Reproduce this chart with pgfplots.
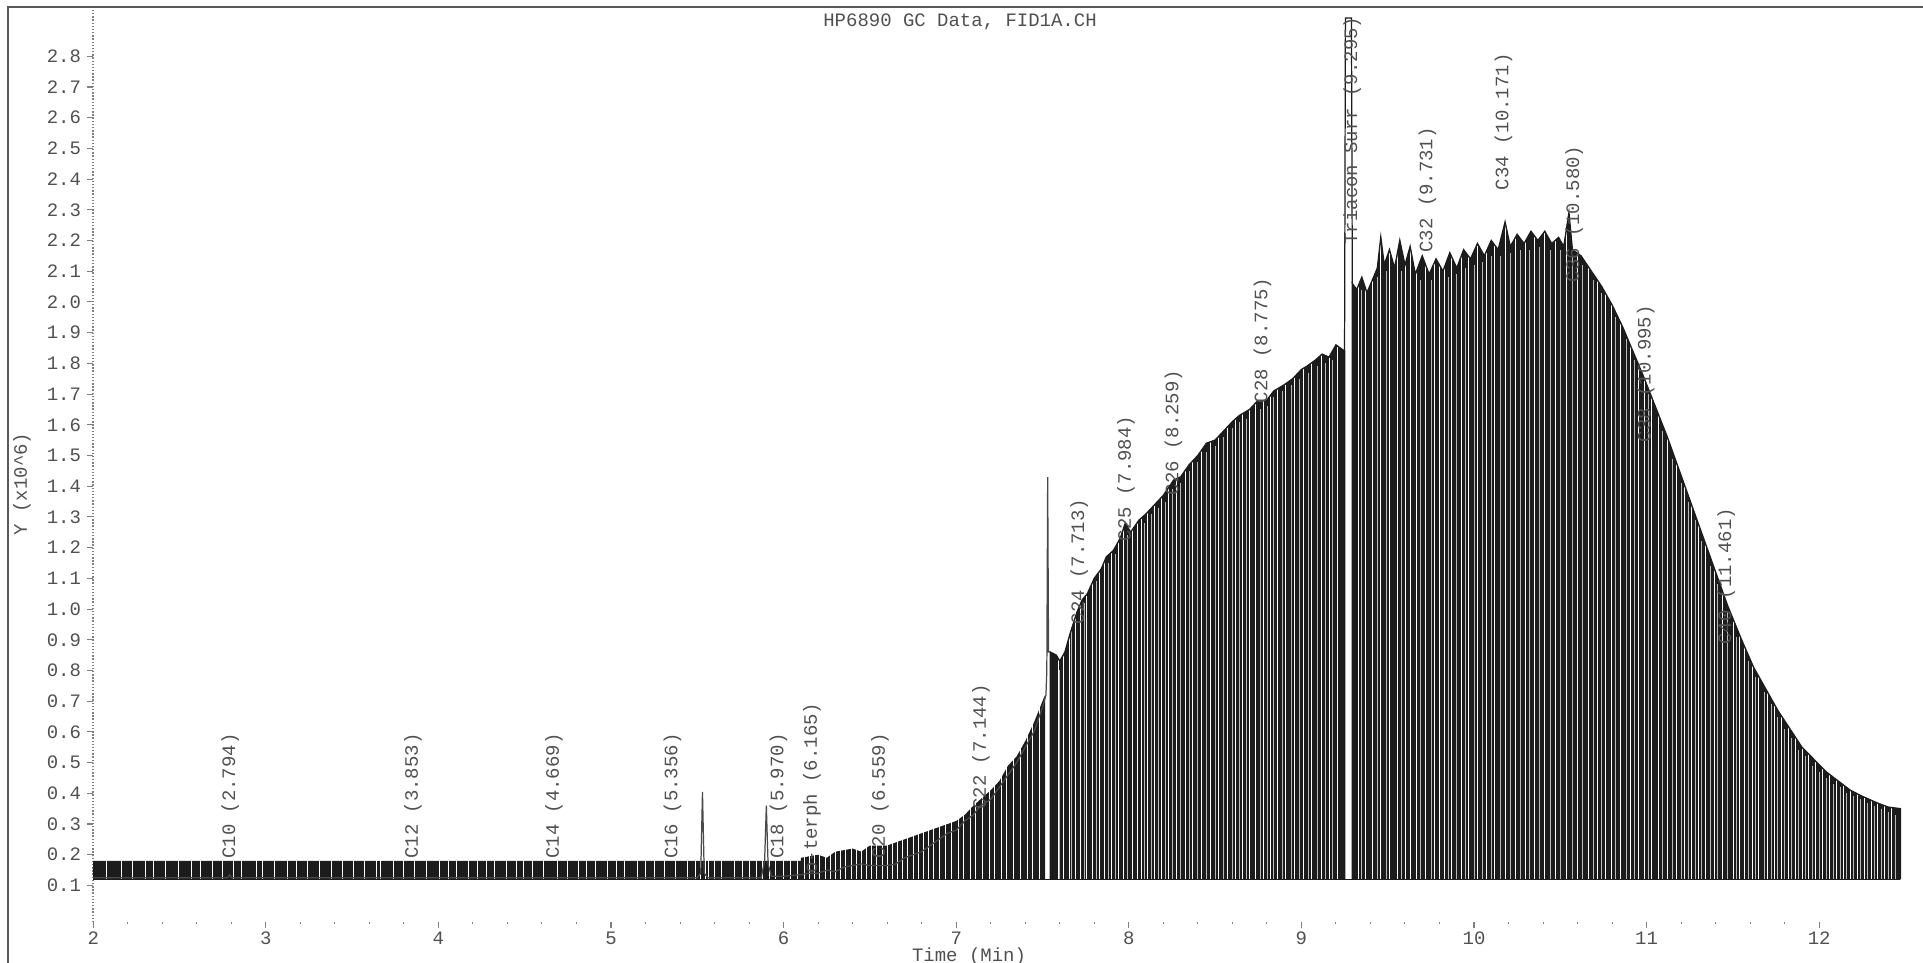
\documentclass[border=0pt]{standalone}
\usepackage{pgfplots}
\pgfplotsset{compat=1.18}
\usepackage{fontspec}
\setmainfont{Liberation Mono}
\definecolor{txt}{HTML}{505050}
\definecolor{ink}{HTML}{1C1C1C}
\newcommand{\lf}{\fontsize{10.8}{12}\selectfont}
\begin{document}
\begin{tikzpicture}
\path[use as bounding box] (0,0) rectangle (38.46cm,19.26cm);
\draw[gray!70!black, line width=0.8pt] (0.16cm,0cm) -- (0.16cm,19.12cm) -- (38.46cm,19.12cm);
\begin{axis}[
  scale only axis, width=36.246cm, height=18.272cm,
  at={(1.864cm,0.814cm)}, anchor=south west,
  xmin=2, xmax=12.5, ymin=-0.02, ymax=2.955,
  axis lines*=left,
  x axis line style={draw=none},
  y axis line style={gray, densely dotted, line width=0.8pt},
  xtick={2,3,...,12}, minor x tick num=4,
  ytick={0.1,0.2,0.3,0.4,0.5,0.6,0.7,0.8,0.9,1.0,1.1,1.2,1.3,1.4,1.5,1.6,1.7,1.8,1.9,2.0,2.1,2.2,2.3,2.4,2.5,2.6,2.7,2.8},
  tick align=outside, major tick length=0.12cm, minor tick length=0.04cm,
  tick style={gray, line width=0.6pt},
  /pgf/number format/assume math mode=true,
  tick label style={font=\lf, text=txt},
  yticklabel style={/pgf/number format/.cd, fixed, fixed zerofill, precision=1},
  xticklabel style={yshift=0.06cm},
]
% low region filled bars
\addplot[fill=ink, draw=none] table {
x y
2.0 0.12
2.0 0.18
6.1 0.18
6.1 0.19
6.2 0.20
6.25 0.19
6.3 0.21
6.4 0.22
6.45 0.21
6.5 0.23
6.6 0.23
6.7 0.25
6.8 0.27
6.85 0.28
6.9 0.29
7.0 0.31
7.05 0.33
7.1 0.36
7.2 0.41
7.25 0.44
7.3 0.49
7.35 0.52
7.4 0.57
7.45 0.63
7.5 0.70
7.515 0.72
7.515 0.12
};
% middle envelope
\addplot[fill=ink, draw=none] table {
x y
7.545 0.12
7.545 0.86
7.58 0.85
7.60 0.83
7.63 0.86
7.66 0.92
7.70 0.99
7.73 1.03
7.76 1.05
7.80 1.10
7.84 1.13
7.87 1.17
7.91 1.19
7.95 1.23
7.98 1.28
8.01 1.25
8.06 1.29
8.10 1.31
8.15 1.34
8.20 1.37
8.26 1.42
8.30 1.43
8.35 1.47
8.40 1.50
8.45 1.54
8.50 1.55
8.55 1.58
8.60 1.61
8.64 1.63
8.70 1.65
8.75 1.68
8.80 1.68
8.84 1.71
8.90 1.73
8.95 1.75
9.00 1.78
9.03 1.79
9.08 1.81
9.12 1.83
9.16 1.82
9.20 1.86
9.25 1.84
9.25 0.12
};
% right envelope
\addplot[fill=ink, draw=none] table {
x y
9.295 0.12
9.295 2.06
9.32 2.04
9.35 2.08
9.38 2.03
9.41 2.07
9.44 2.11
9.46 2.21
9.48 2.12
9.51 2.17
9.54 2.11
9.57 2.20
9.60 2.12
9.63 2.18
9.66 2.09
9.70 2.15
9.74 2.09
9.78 2.14
9.82 2.10
9.86 2.16
9.90 2.11
9.94 2.17
9.98 2.14
10.02 2.19
10.06 2.15
10.10 2.20
10.14 2.17
10.18 2.26
10.21 2.18
10.25 2.22
10.29 2.19
10.33 2.23
10.37 2.20
10.41 2.23
10.45 2.19
10.49 2.21
10.52 2.18
10.55 2.29
10.57 2.17
10.62 2.15
10.68 2.10
10.74 2.05
10.80 1.99
10.86 1.92
10.92 1.84
10.98 1.76
11.05 1.66
11.12 1.56
11.19 1.45
11.26 1.34
11.33 1.23
11.40 1.12
11.47 1.01
11.55 0.90
11.62 0.81
11.70 0.73
11.76 0.67
11.83 0.61
11.90 0.55
11.97 0.51
12.04 0.47
12.11 0.44
12.18 0.41
12.25 0.39
12.33 0.37
12.40 0.355
12.47 0.35
12.47 0.12
};
% lighter drop lines (from baseline 0.12 up to y)
\addplot[draw=none, mark=none,
  error bars/.cd, y dir=minus, y explicit, error mark=none,
  error bar style={draw=gray!55, line width=0.4pt}]
  table[y error expr=\thisrow{y}-0.12] {
x y
7.60 0.80
7.67 0.94
7.74 1.02
7.81 1.09
7.88 1.15
7.92 1.18
7.99 1.24
8.09 1.28
8.13 1.31
8.17 1.33
8.21 1.35
8.25 1.39
8.30 1.41
8.35 1.45
8.40 1.48
8.45 1.51
8.50 1.53
8.55 1.56
8.60 1.59
8.64 1.61
8.68 1.62
8.76 1.65
8.80 1.66
8.84 1.69
8.89 1.71
8.94 1.73
8.99 1.75
9.04 1.77
9.09 1.79
9.14 1.80
9.18 1.81
9.35 2.04
9.44 2.08
9.49 2.10
9.58 2.10
9.69 2.07
9.75 2.07
9.85 2.08
9.90 2.09
9.95 2.11
10.00 2.12
10.05 2.13
10.10 2.15
10.15 2.15
10.21 2.16
10.27 2.17
10.32 2.17
10.38 2.18
10.44 2.17
10.50 2.17
10.57 2.15
10.63 2.12
10.69 2.07
10.74 2.03
10.82 1.95
10.88 1.88
10.93 1.81
11.01 1.70
11.09 1.58
11.15 1.49
11.20 1.41
11.24 1.35
11.28 1.29
11.32 1.22
11.37 1.14
11.41 1.08
11.47 0.99
11.52 0.91
11.59 0.83
11.63 0.78
11.68 0.73
11.72 0.69
11.76 0.65
11.80 0.61
11.84 0.58
11.88 0.54
11.92 0.52
11.96 0.49
12.00 0.47
12.04 0.45
12.08 0.43
12.12 0.42
12.16 0.40
12.20 0.39
12.24 0.38
12.28 0.37
12.32 0.36
12.36 0.35
12.40 0.34
12.44 0.33
};
% white gaps between drop lines
\addplot[ycomb, color=white, line width=0.45pt, mark=none] table {
x y
2.079 2.4
2.164 2.4
2.225 2.4
2.30 2.4
2.347 2.4
2.42 2.4
2.494 2.4
2.567 2.4
2.62 2.4
2.689 2.4
2.75 2.4
2.811 2.4
2.86 2.4
2.945 2.4
2.981 2.4
3.05 2.4
3.128 2.4
3.176 2.4
3.24 2.4
3.310 2.4
3.38 2.4
3.445 2.4
3.505 2.4
3.57 2.4
3.640 2.4
3.664 2.4
3.737 2.4
3.80 2.4
3.859 2.4
3.932 2.4
4.005 2.4
4.06 2.4
4.103 2.4
4.176 2.4
4.225 2.4
4.28 2.4
4.322 2.4
4.396 2.4
4.45 2.4
4.493 2.4
4.542 2.4
4.61 2.4
4.688 2.4
4.75 2.4
4.810 2.4
4.86 2.4
4.908 2.4
4.981 2.4
5.03 2.4
5.078 2.4
5.151 2.4
5.20 2.4
5.249 2.4
5.31 2.4
5.371 2.4
5.444 2.4
5.49 2.4
5.52 2.4
5.545 2.4
5.566 2.4
5.60 2.4
5.639 2.4
5.712 2.4
5.76 2.4
5.80 2.4
5.84 2.4
5.88 2.4
5.915 2.4
5.95 2.4
6.00 2.4
6.04 2.4
6.08 2.4
6.12 2.4
6.15 2.4
6.18 2.4
6.21 2.4
6.24 2.4
6.27 2.4
6.30 2.4
6.33 2.4
6.36 2.4
6.39 2.4
6.42 2.4
6.45 2.4
6.48 2.4
6.51 2.4
6.54 2.4
6.57 2.4
6.60 2.4
6.63 2.4
6.66 2.4
6.69 2.4
6.72 2.4
6.75 2.4
6.78 2.4
6.81 2.4
6.84 2.4
6.87 2.4
6.90 2.4
6.935 2.4
6.97 2.4
7.01 2.4
7.04 2.4
7.08 2.4
7.11 2.4
7.15 2.4
7.19 2.4
7.22 2.4
7.26 2.4
7.29 2.4
7.33 2.4
7.37 2.4
7.41 2.4
7.44 2.4
7.48 2.4
7.59 2.4
7.62 2.4
7.655 2.4
7.69 2.4
7.72 2.4
7.755 2.4
7.79 2.4
7.83 2.4
7.86 2.4
7.90 2.4
7.94 2.4
7.97 2.4
8.02 2.4
8.05 2.4
8.075 2.4
8.11 2.4
8.15 2.4
8.19 2.4
8.23 2.4
8.278 2.4
8.33 2.4
8.37 2.4
8.42 2.4
8.47 2.4
8.52 2.4
8.57 2.4
8.62 2.4
8.66 2.4
8.70 2.4
8.735 2.4
8.78 2.4
8.82 2.4
8.863 2.4
8.91 2.4
8.96 2.4
9.01 2.4
9.06 2.4
9.114 2.4
9.16 2.4
9.21 2.4
9.33 2.4
9.37 2.4
9.41 2.4
9.46 2.4
9.51 2.4
9.554 2.4
9.60 2.4
9.63 2.4
9.668 2.4
9.72 2.4
9.77 2.4
9.80 2.4
9.826 2.4
9.87 2.4
9.925 2.4
9.97 2.4
10.02 2.4
10.07 2.4
10.12 2.4
10.183 2.4
10.24 2.4
10.296 2.4
10.35 2.4
10.41 2.4
10.473 2.4
10.537 2.4
10.60 2.4
10.66 2.4
10.713 2.4
10.76 2.4
10.794 2.4
10.85 2.4
10.907 2.4
10.95 2.4
10.985 2.4
11.03 2.4
11.066 2.4
11.12 2.4
11.17 2.4
11.22 2.4
11.261 2.4
11.30 2.4
11.342 2.4
11.39 2.4
11.437 2.4
11.50 2.4
11.54 2.4
11.567 2.4
11.61 2.4
11.65 2.4
11.70 2.4
11.74 2.4
11.78 2.4
11.82 2.4
11.86 2.4
11.90 2.4
11.94 2.4
11.98 2.4
12.02 2.4
12.06 2.4
12.10 2.4
12.14 2.4
12.18 2.4
12.22 2.4
12.26 2.4
12.30 2.4
12.34 2.4
12.38 2.4
12.42 2.4
};
% baseline
\addplot[ink, line width=0.9pt] coordinates {(2.0,0.12) (12.47,0.12)};
% signal trace, low part
\addplot[ink!80, line width=0.7pt] table {
x y
2.0 0.125
2.78 0.125
2.79 0.135
2.80 0.125
5.50 0.125
5.52 0.14
5.53 0.405
5.54 0.14
5.56 0.125
5.87 0.125
5.89 0.18
5.90 0.36
5.91 0.17
5.93 0.13
6.00 0.13
6.10 0.135
6.15 0.14
6.20 0.14
6.25 0.15
6.30 0.145
6.35 0.16
6.40 0.165
6.45 0.17
6.50 0.165
6.55 0.165
6.60 0.165
6.65 0.17
6.70 0.19
6.75 0.20
6.80 0.21
6.85 0.23
6.90 0.25
6.95 0.27
7.00 0.28
7.05 0.31
7.10 0.33
7.14 0.36
7.20 0.38
7.25 0.42
7.30 0.46
7.35 0.50
7.40 0.55
7.45 0.60
7.50 0.68
7.52 0.72
7.525 0.80
7.53 1.43
7.535 0.86
7.545 0.86
};
% signal trace, middle
\addplot[ink, line width=0.8pt] table {
x y
7.545 0.12
7.545 0.86
7.58 0.85
7.60 0.83
7.63 0.86
7.66 0.92
7.70 0.99
7.73 1.03
7.76 1.05
7.80 1.10
7.84 1.13
7.87 1.17
7.91 1.19
7.95 1.23
7.98 1.28
8.01 1.25
8.06 1.29
8.10 1.31
8.15 1.34
8.20 1.37
8.26 1.42
8.30 1.43
8.35 1.47
8.40 1.50
8.45 1.54
8.50 1.55
8.55 1.58
8.60 1.61
8.64 1.63
8.70 1.65
8.75 1.68
8.80 1.68
8.84 1.71
8.90 1.73
8.95 1.75
9.00 1.78
9.03 1.79
9.08 1.81
9.12 1.83
9.16 1.82
9.20 1.86
9.25 1.84
9.25 0.12
};
% surrogate peak
\addplot[ink, line width=0.7pt] coordinates {(9.22,1.84) (9.25,1.84) (9.255,2.925) (9.29,2.925) (9.295,2.06)};
% signal trace, right
\addplot[ink, line width=0.8pt] table {
x y
9.295 0.12
9.295 2.06
9.32 2.04
9.35 2.08
9.38 2.03
9.41 2.07
9.44 2.11
9.46 2.21
9.48 2.12
9.51 2.17
9.54 2.11
9.57 2.20
9.60 2.12
9.63 2.18
9.66 2.09
9.70 2.15
9.74 2.09
9.78 2.14
9.82 2.10
9.86 2.16
9.90 2.11
9.94 2.17
9.98 2.14
10.02 2.19
10.06 2.15
10.10 2.20
10.14 2.17
10.18 2.26
10.21 2.18
10.25 2.22
10.29 2.19
10.33 2.23
10.37 2.20
10.41 2.23
10.45 2.19
10.49 2.21
10.52 2.18
10.55 2.29
10.57 2.17
10.62 2.15
10.68 2.10
10.74 2.05
10.80 1.99
10.86 1.92
10.92 1.84
10.98 1.76
11.05 1.66
11.12 1.56
11.19 1.45
11.26 1.34
11.33 1.23
11.40 1.12
11.47 1.01
11.55 0.90
11.62 0.81
11.70 0.73
11.76 0.67
11.83 0.61
11.90 0.55
11.97 0.51
12.04 0.47
12.11 0.44
12.18 0.41
12.25 0.39
12.33 0.37
12.40 0.355
12.47 0.35
12.47 0.12
};
% peak labels
\begin{scope}[every node/.style={rotate=90, anchor=east, font=\lf, text=txt, inner sep=0pt}]
\node at (axis cs:2.794,0.596) {C10 (2.794)};
\node at (axis cs:3.853,0.596) {C12 (3.853)};
\node at (axis cs:4.669,0.596) {C14 (4.669)};
\node at (axis cs:5.356,0.596) {C16 (5.356)};
\node at (axis cs:5.970,0.596) {C18 (5.970)};
\node at (axis cs:6.165,0.696) {o-terph (6.165)};
\node at (axis cs:6.559,0.596) {C20 (6.559)};
\node at (axis cs:7.144,0.756) {C22 (7.144)};
\node at (axis cs:7.713,1.36) {C24 (7.713)};
\node at (axis cs:7.984,1.63) {C25 (7.984)};
\node at (axis cs:8.259,1.78) {C26 (8.259)};
\node at (axis cs:8.775,2.08) {C28 (8.775)};
\node at (axis cs:9.295,2.93) {Triacon Surr (9.295)};
\node at (axis cs:9.731,2.57) {C32 (9.731)};
\node at (axis cs:10.171,2.81) {C34 (10.171)};
\node at (axis cs:10.580,2.51) {C36 (10.580)};
\node at (axis cs:10.995,1.99) {C38 (10.995)};
\node at (axis cs:11.461,1.33) {C40 (11.461)};
\end{scope}
\end{axis}
\node[font=\lf, text=txt] at (19.2cm,18.83cm) {HP6890 GC Data, FID1A.CH};
\node[font=\lf, text=txt] at (19.38cm,0.12cm) {Time (Min)};
\node[font=\lf, text=txt, rotate=90] at (0.44cm,9.58cm) {Y (x10\textasciicircum 6)};
\end{tikzpicture}
\end{document}
